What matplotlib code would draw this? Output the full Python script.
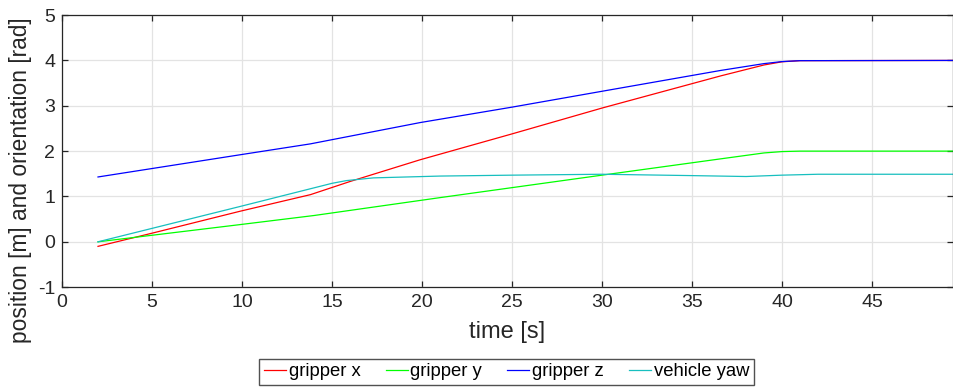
import matplotlib
matplotlib.use("Agg")
import matplotlib.pyplot as plt

plt.rcParams['font.family'] = ['Liberation Sans', 'DejaVu Sans']
plt.rcParams['axes.unicode_minus'] = False

# values
t_x = [2, 5, 9.9, 13.8, 16, 19.9, 25, 30, 36.6, 39, 40, 41, 49.5]
gripper_x = [-0.10, 0.19, 0.675, 1.04, 1.33, 1.81, 2.38, 2.95, 3.66, 3.90, 3.97, 3.995, 4.0]

t_y = [2, 9.9, 14, 21.1, 30, 36.6, 39, 40, 41, 49.5]
gripper_y = [0.0, 0.38, 0.58, 0.98, 1.47, 1.83, 1.96, 1.99, 2.0, 2.0]

t_z = [2, 9.9, 13.8, 19.9, 25, 30, 36.6, 39, 40, 41, 49.5]
gripper_z = [1.43, 1.92, 2.16, 2.63, 2.97, 3.32, 3.78, 3.93, 3.975, 3.995, 4.0]

t_yaw = [2, 9.9, 14.3, 15.0, 15.8, 17.3, 21, 25, 30, 35, 38, 40, 42, 49.5]
vehicle_yaw = [0.0, 0.78, 1.22, 1.29, 1.35, 1.41, 1.45, 1.47, 1.49, 1.46, 1.44, 1.47, 1.49, 1.49]

series = [
    ('gripper x', t_x, gripper_x, '#ff0000'),
    ('gripper y', t_y, gripper_y, '#00ff00'),
    ('gripper z', t_z, gripper_z, '#0000ff'),
    ('vehicle yaw', t_yaw, vehicle_yaw, '#17bfbf'),
]

fig = plt.figure(figsize=(9.54, 3.87), dpi=100)
ax = fig.add_axes([0.065, 0.258, 0.934, 0.703])

for name, t, v, c in series:
    ax.plot(t, v, color=c, lw=0.9, label=name)

ax.set_xlim(0, 49.5)
ax.set_ylim(-1, 5)
ax.set_xticks(range(0, 50, 5))
ax.set_yticks(range(-1, 6))
ax.grid(True, color='#e3e3e3', lw=0.9)
ax.set_axisbelow(True)
ax.tick_params(direction='in', length=4, width=0.9, colors='#262626',
               labelsize=14, top=True, right=True, pad=5)
for s in ax.spines.values():
    s.set_color('#262626')
    s.set_linewidth(0.9)

ax.set_xlabel('time [s]', fontsize=17, color='#262626', labelpad=7)
ax.set_ylabel('position [m] and orientation [rad]', fontsize=16.4, color='#262626')
# label is longer than the axes, so it sits lower like in the original
ax.yaxis.set_label_coords(-0.034, 0.392)

fig.legend(loc='center', bbox_to_anchor=(0.531, 0.039), ncol=4, fontsize=13.3,
           handlelength=1.2, handletextpad=0.15, columnspacing=1.35,
           frameon=True, fancybox=False, edgecolor='#262626', borderpad=0.25,
           borderaxespad=0)

fig.savefig('out.png', dpi=100)
